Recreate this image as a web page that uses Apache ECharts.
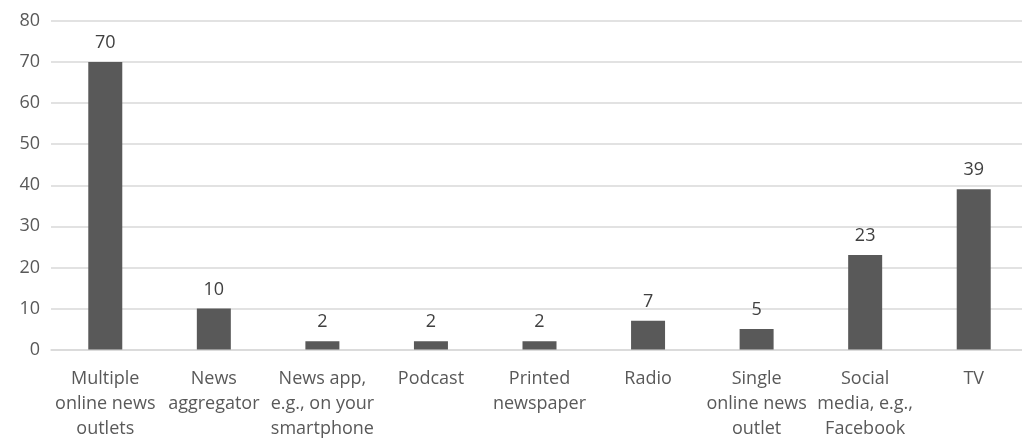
<!DOCTYPE html>
<html><head><meta charset="utf-8">
<script src="https://cdn.jsdelivr.net/npm/echarts@6/dist/echarts.min.js"></script>
<style>html,body{margin:0;padding:0;background:#fff;overflow:hidden}#c{width:1022px;height:438px}</style>
</head><body><div id="c"></div>
<script>
const categories = [
  "Multiple\nonline news\noutlets",
  "News\naggregator",
  "News app,\ne.g., on your\nsmartphone",
  "Podcast",
  "Printed\nnewspaper",
  "Radio",
  "Single\nonline news\noutlet",
  "Social\nmedia, e.g.,\nFacebook",
  "TV"
];
const values = [70, 10, 2, 2, 2, 7, 5, 23, 39];
const yMin = 0, yMax = 80, yStep = 10;

const chart = echarts.init(document.getElementById('c'), null, {renderer: 'canvas'});
const font = "'Open Sans', sans-serif";
chart.setOption({
  animation: false,
  grid: {left: 51, right: -6, top: 21, bottom: 88.5, containLabel: false, outerBoundsMode: 'none'},
  xAxis: {
    type: 'category', data: categories,
    axisLine: {show: true, lineStyle: {color: '#d9d9d9', width: 1.5}},
    axisTick: {show: false},
    axisLabel: {color: '#595959', fontFamily: font, fontSize: 18, lineHeight: 25, margin: 17, interval: 0}
  },
  yAxis: {
    type: 'value', min: yMin, max: yMax, interval: yStep,
    axisLine: {show: false}, axisTick: {show: false},
    axisLabel: {color: '#595959', fontFamily: font, fontSize: 18, margin: 11},
    splitLine: {lineStyle: {color: '#d9d9d9', width: 1.5}}
  },
  series: [{
    type: 'bar', data: values, barWidth: 34,
    itemStyle: {color: '#595959'},
    label: {show: true, position: 'top', distance: 10, color: '#404040', fontFamily: font, fontSize: 18}
  }]
});
</script></body></html>
